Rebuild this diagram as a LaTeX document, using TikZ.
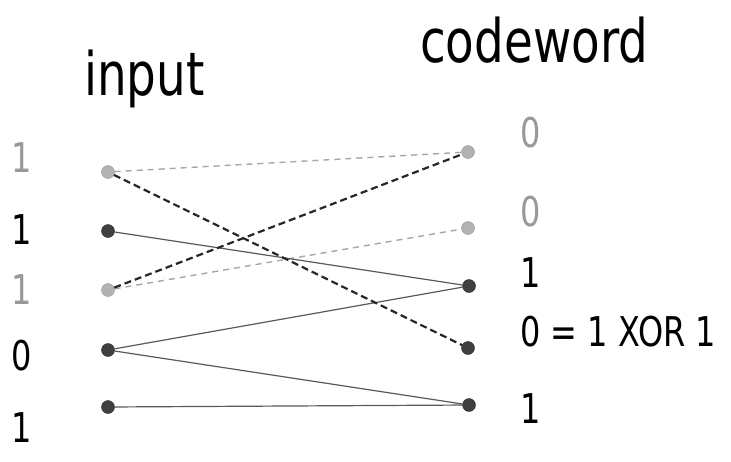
\documentclass[tikz,border=0pt]{standalone}
\usepackage{fontspec}
\newfontfamily\labelfont[FakeStretch=0.78]{DejaVu Sans}
\usetikzlibrary{positioning}

\begin{document}
\begin{tikzpicture}[
    x=1pt, y=-1pt,
    bit/.style={circle, inner sep=0pt, minimum size=13pt},
    onbit/.style={bit, fill=black!75, draw=black!85},
    offbit/.style={bit, fill=black!30, draw=black!40},
    digit/.style={font=\labelfont\fontsize{41}{41}\selectfont, inner sep=0pt},
    title/.style={font=\labelfont\fontsize{60}{60}\selectfont, inner sep=0pt, anchor=base west},
    wire/.style={line width=1.2pt, black!65},
    xorwire/.style={line width=2.2pt, black!85, dash pattern=on 7pt off 4pt},
    faintwire/.style={line width=1.4pt, black!35, dash pattern=on 6pt off 5pt}
]
\useasboundingbox (0,0) rectangle (731,461);

% Column headings
\node[title] (intitle) at (84,95) {input};
\node[title] (cwtitle) at (420,62) {codeword};

% Input bits
\node[offbit] (in1) at (108,172) {};
\node[onbit] (in2) at (108,231) {};
\node[offbit] (in3) at (108,290) {};
\node[onbit] (in4) at (108,350) {};
\node[onbit] (in5) at (108,407) {};

\node[digit, text=black!40] (lin1) at (22,158) {1};
\node[digit] (lin2) at (22,230) {1};
\node[digit, text=black!40] (lin3) at (22,290) {1};
\node[digit] (lin4) at (22,356) {0};
\node[digit] (lin5) at (22,428) {1};

% Codeword bits
\node[offbit] (out1) at (468,152) {};
\node[offbit] (out2) at (468,228) {};
\node[onbit] (out3) at (469,286) {};
\node[onbit] (out4) at (468,348) {};
\node[onbit] (out5) at (469,405) {};

\node[digit, text=black!40, anchor=west] (lout1) at (520,133) {0};
\node[digit, text=black!40, anchor=west] (lout2) at (520,212) {0};
\node[digit, anchor=west] (lout3) at (520,273) {1};
\node[digit, anchor=west] (lout4) at (520,332) {0 = 1 XOR 1};
\node[digit, anchor=west] (lout5) at (520,409) {1};

% Connections
\draw[faintwire] (in1) -- (out1);
\draw[faintwire] (in3) -- (out2);
\draw[wire] (in2) -- (out3);
\draw[wire] (in4) -- (out3);
\draw[wire] (in4) -- (out5);
\draw[wire] (in5) -- (out5);
\draw[xorwire] (in1) -- (out4);
\draw[xorwire] (in3) -- (out1);

\end{tikzpicture}
\end{document}
